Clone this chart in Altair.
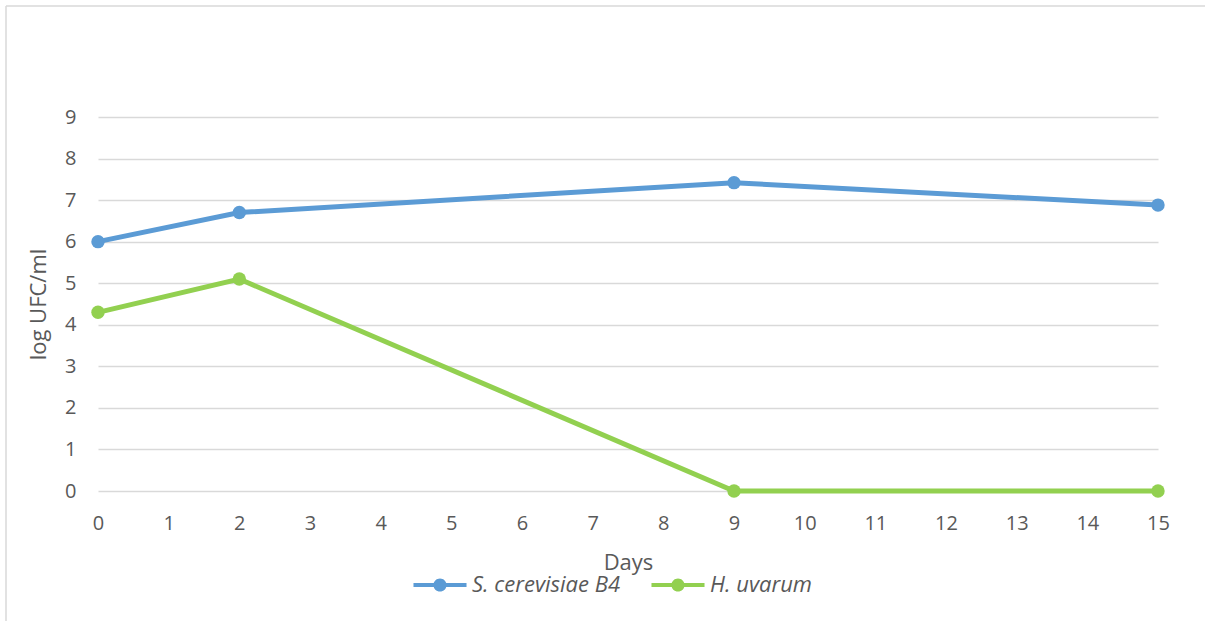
import altair as alt
import pandas as pd

# Yeast counts (log UFC/ml) over the fermentation
days = [0, 2, 9, 15]
s_cerevisiae = [6.0, 6.7, 7.42, 6.88]
h_uvarum = [4.3, 5.1, 0.0, 0.0]
series_names = ["S. cerevisiae B4", "H. uvarum"]
series_colors = ["#5B9BD5", "#92D050"]
x_ticks = list(range(16))
y_ticks = list(range(10))

df = pd.DataFrame({
    "Days": days + days,
    "UFC": s_cerevisiae + h_uvarum,
    "Series": [series_names[0]] * len(days) + [series_names[1]] * len(days),
})

FONT = "Open Sans"
TEXT = "#595959"
GRID = "#D9D9D9"

# line with a dot in the middle, used as legend symbol
LEGEND_SYMBOL = ("M-2.5,-0.2H2.5V0.2H-2.5Z "
                 "M0.62,0A0.62,0.62 0 1,1 -0.62,0A0.62,0.62 0 1,1 0.62,0Z")

x_enc = alt.X(
    "Days:Q",
    scale=alt.Scale(domain=[0, 15], nice=False, zero=False),
    axis=alt.Axis(values=x_ticks, title="Days", grid=False, domain=False,
                  ticks=False, labelPadding=22, titlePadding=19,
                  labelFlush=False, labelFontSize=20, titleFontSize=22),
)
y_enc = alt.Y(
    "UFC:Q",
    scale=alt.Scale(domain=[0, 9], nice=False),
    axis=alt.Axis(values=y_ticks, title="log UFC/ml", grid=True, domain=False,
                  ticks=False, labelPadding=22, titlePadding=14,
                  labelFlush=False, labelFontSize=20, titleFontSize=22),
)
color_enc = alt.Color(
    "Series:N",
    scale=alt.Scale(domain=series_names, range=series_colors),
    sort=series_names,
    legend=alt.Legend(
        title=None, orient="none", direction="horizontal",
        legendX=331, legendY=457,
        symbolType=LEGEND_SYMBOL, symbolSize=450, symbolStrokeWidth=0,
        symbolOpacity=1,
        labelFontStyle="italic", labelFontSize=22, labelColor=TEXT,
        labelFont=FONT, labelOffset=21, columnPadding=30, padding=0,
    ),
)

lines = alt.Chart(df).mark_line(strokeWidth=5).encode(
    x=x_enc, y=y_enc, color=color_enc, detail="Series:N"
)
points = alt.Chart(df).mark_circle(size=180, opacity=1).encode(
    x=x_enc, y=y_enc, color=color_enc
)

# chart frame (top and left edges)
frame_top = alt.Chart(alt.Data(values=[{}])).mark_rule(
    color=GRID, strokeWidth=1.5
).encode(x=alt.value(-92), x2=alt.value(1120), y=alt.value(-111))
frame_left = alt.Chart(alt.Data(values=[{}])).mark_rule(
    color=GRID, strokeWidth=1.5
).encode(x=alt.value(-92), y=alt.value(-111), y2=alt.value(520))

chart = alt.layer(frame_top, frame_left, lines, points).properties(
    width=1060,
    height=374,
    padding={"left": 98, "top": 117, "right": 47, "bottom": 130},
    autosize=alt.AutoSizeParams(type="none"),
    background="white",
).configure_view(stroke=None).configure_axis(
    labelFont=FONT, titleFont=FONT, labelColor=TEXT, titleColor=TEXT,
    titleFontWeight="normal", gridColor=GRID, gridWidth=1.5,
)

chart.save("out.html", embed_options={"renderer": "svg", "actions": False})
